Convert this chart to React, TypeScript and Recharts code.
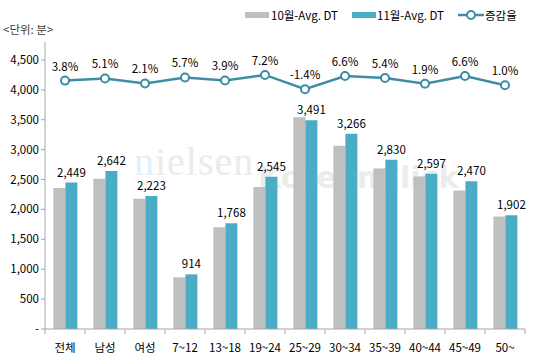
import React from 'react';
import { ComposedChart, Bar, Line, XAxis, YAxis, LabelList } from 'recharts';

const categories = ['전체', '남성', '여성', '7~12', '13~18', '19~24', '25~29', '30~34', '35~39', '40~44', '45~49', '50~'];
const oct = [2359, 2514, 2177, 865, 1702, 2374, 3541, 3064, 2685, 2549, 2317, 1883];
const nov = [2449, 2642, 2223, 914, 1768, 2545, 3491, 3266, 2830, 2597, 2470, 1902];
const rate = [3.8, 5.1, 2.1, 5.7, 3.9, 7.2, -1.4, 6.6, 5.4, 1.9, 6.6, 1.0];
const yTicks = [0, 500, 1000, 1500, 2000, 2500, 3000, 3500, 4000, 4500];

const data = categories.map((c, i) => ({ name: c, oct: oct[i], nov: nov[i], rate: rate[i] }));

const FONT = '"Noto Sans CJK KR", "DejaVu Sans", sans-serif';
const GRAY = '#BFBFBF';
const TEAL = '#4BACC6';
const LINE = '#3E8CA6';
const AXIS = '#A6A6A6';

const XTick = (props: any) => {
  const { x, y, payload, index } = props;
  const last = index === categories.length - 1;
  return (
    <g>
      <text x={x} y={y + 23} textAnchor="middle" fontSize={11.5} fill="#000" fontFamily={FONT}>{payload.value}</text>
      <line x1={x - 20} x2={x - 20} y1={y} y2={y + 5} stroke={AXIS} />
      {last && <line x1={x + 20} x2={x + 20} y1={y} y2={y + 5} stroke={AXIS} />}
    </g>
  );
};

const LegendBox = () => (
  <div style={{ position: 'absolute', left: 245, top: 7, width: 290, height: 20, fontFamily: FONT, fontSize: 11.5, color: '#000' }}>
    <div style={{ position: 'absolute', left: 0, top: 5, width: 24, height: 6, background: GRAY }} />
    <div style={{ position: 'absolute', left: 26, top: 0, lineHeight: '16px' }}>10월-Avg. DT</div>
    <div style={{ position: 'absolute', left: 107, top: 5, width: 24, height: 6, background: TEAL }} />
    <div style={{ position: 'absolute', left: 132, top: 0, lineHeight: '16px' }}>11월-Avg. DT</div>
    <svg style={{ position: 'absolute', left: 213, top: 1 }} width={26} height={14}>
      <line x1={0} x2={26} y1={7} y2={7} stroke={LINE} strokeWidth={2.5} />
      <circle cx={13} cy={7} r={4} fill="#fff" stroke={LINE} strokeWidth={2} />
    </svg>
    <div style={{ position: 'absolute', left: 240, top: 0, lineHeight: '16px' }}>증감율</div>
  </div>
);

export default function App() {
  return (
    <div style={{ position: 'absolute', left: 0, top: 0, width: 535, height: 362, background: '#fff', overflow: 'hidden' }}>
      <div style={{ position: 'absolute', left: 134, top: 138, fontFamily: '"Liberation Serif", serif', fontSize: 40, color: '#EBEBEB', letterSpacing: 1 }}>
        <span style={{ color: '#E2F1F7' }}>n</span>ielsen
      </div>
      <div style={{ position: 'absolute', left: 258, top: 160, fontFamily: '"DejaVu Sans", sans-serif', fontWeight: 'bold', fontSize: 30, color: '#ECECEC' }}>
        KoreanClick
      </div>
      <div style={{ position: 'absolute', left: 3, top: 21, fontFamily: FONT, fontSize: 11.5, color: '#404040' }}>&lt;단위: 분&gt;</div>
      <LegendBox />
      <div style={{ position: 'absolute', left: 0, top: 0 }}>
        <ComposedChart width={535} height={362} data={data} margin={{ top: 42, right: 10, bottom: 3, left: 0 }} barCategoryGap="21%" barGap={0}>
          <XAxis dataKey="name" tick={<XTick />} tickLine={false} tickSize={0} tickMargin={0} axisLine={{ stroke: AXIS }} height={30} interval={0} />
          <YAxis yAxisId="l" width={45} domain={[0, 4800]} ticks={yTicks} axisLine={{ stroke: AXIS }} tickLine={{ stroke: AXIS }} tickSize={4}
            tick={{ fontSize: 11.5, fill: '#000', fontFamily: FONT }}
            tickFormatter={(v: number) => (v === 0 ? '-' : v.toLocaleString('en-US'))} />
          <YAxis yAxisId="r" orientation="right" hide domain={[-145.5, 27]} />
          <Bar yAxisId="l" dataKey="oct" fill={GRAY} isAnimationActive={false} />
          <Bar yAxisId="l" dataKey="nov" fill={TEAL} isAnimationActive={false}>
            <LabelList dataKey="nov" position="top" offset={6} fontSize={11.5} fill="#000" fontFamily={FONT}
              formatter={(v: any) => Number(v).toLocaleString('en-US')} />
          </Bar>
          <Line yAxisId="r" dataKey="rate" stroke={LINE} strokeWidth={2.5} isAnimationActive={false}
            dot={{ r: 4, fill: '#fff', stroke: LINE, strokeWidth: 2 }} activeDot={false}>
            <LabelList dataKey="rate" position="top" offset={10} fontSize={11.5} fill="#000" fontFamily={FONT}
              formatter={(v: any) => Number(v).toFixed(1) + '%'} />
          </Line>
        </ComposedChart>
      </div>
    </div>
  );
}
